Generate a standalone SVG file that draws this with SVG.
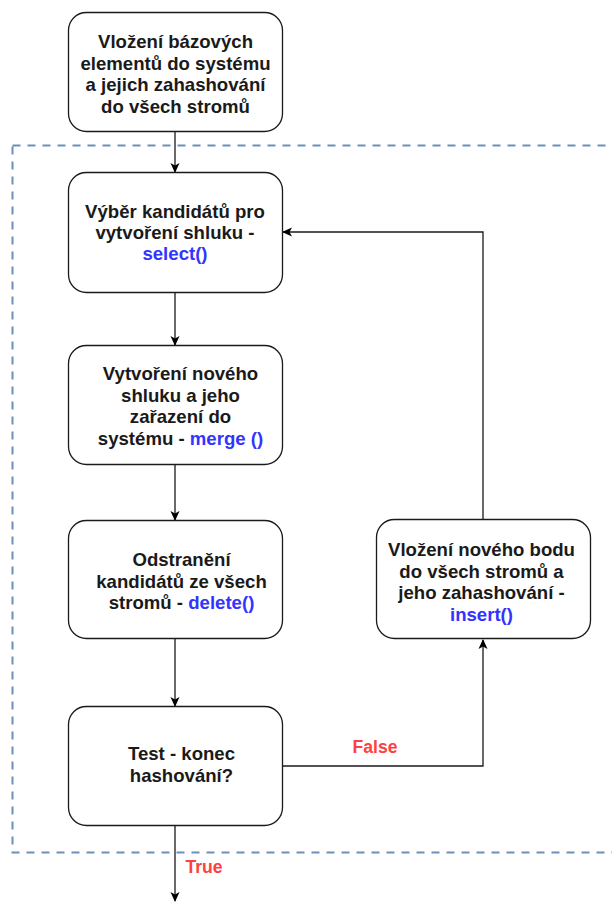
<svg xmlns="http://www.w3.org/2000/svg" width="612" height="902" viewBox="0 0 612 902">
  <style>
    .box { fill: #ffffff; stroke: #1a1a1a; stroke-width: 1.3; }
    .lbl { font-family: "Liberation Sans", Arial, sans-serif; font-size: 18.6px; font-weight: bold; fill: #1a1a1a; text-anchor: middle; }
    .fn { fill: #3333ff; }
    .edge { fill: none; stroke: #1a1a1a; stroke-width: 1.3; }
    .cond { font-family: "Liberation Sans", Arial, sans-serif; font-size: 17.6px; font-weight: bold; fill: #ff4040; text-anchor: middle; }
  </style>
  <defs>
    <marker id="arrow" viewBox="0 0 10 10" refX="9" refY="5" markerWidth="10" markerHeight="10" markerUnits="userSpaceOnUse" orient="auto">
      <path d="M0,0.5 L10,5 L0,9.5 L2.5,5 Z" fill="#000000"/>
    </marker>
  </defs>
  <rect width="612" height="902" fill="#ffffff"/>

  <!-- loop region -->
  <rect x="12.5" y="145.5" width="640" height="707" fill="none" stroke="#6c8ebf" stroke-width="2" stroke-dasharray="8 7"/>

  <g id="connectors">
    <path class="edge" d="M175,132 L175,172" marker-end="url(#arrow)"/>
    <path class="edge" d="M175,293 L175,345" marker-end="url(#arrow)"/>
    <path class="edge" d="M175,465 L175,520" marker-end="url(#arrow)"/>
    <path class="edge" d="M175,638 L175,706" marker-end="url(#arrow)"/>
    <path class="edge" d="M175,826 L175,901" marker-end="url(#arrow)"/>
    <path class="edge" d="M282,766 L483,766 L483,640" marker-end="url(#arrow)"/>
    <path class="edge" d="M483,519 L483,232 L283,232" marker-end="url(#arrow)"/>
    <text class="cond" x="375" y="753">False</text>
    <text class="cond" x="204" y="873">True</text>
  </g>

  <g id="insert-base">
    <rect class="box" x="68.5" y="12.5" width="214" height="119" rx="18"/>
    <text class="lbl" x="175.5" y="48">Vložení bázových</text>
    <text class="lbl" x="175.5" y="69.5">elementů do systému</text>
    <text class="lbl" x="175.5" y="91">a jejich zahashování</text>
    <text class="lbl" x="175.5" y="112.5">do všech stromů</text>
  </g>

  <g id="select">
    <rect class="box" x="68.5" y="172.5" width="214" height="120" rx="18"/>
    <text class="lbl" x="175" y="218">Výběr kandidátů pro</text>
    <text class="lbl" x="175" y="239">vytvoření shluku -</text>
    <text class="lbl fn" x="175" y="260">select()</text>
  </g>

  <g id="merge">
    <rect class="box" x="68.5" y="345.5" width="214" height="119" rx="18"/>
    <text class="lbl" x="180.5" y="380">Vytvoření nového</text>
    <text class="lbl" x="180.5" y="401.5">shluku a jeho</text>
    <text class="lbl" x="180.5" y="423">zařazení do</text>
    <text class="lbl" x="180.5" y="444.5">systému - <tspan class="fn">merge ()</tspan></text>
  </g>

  <g id="delete">
    <rect class="box" x="68.5" y="520.5" width="214" height="118" rx="18"/>
    <text class="lbl" x="181.5" y="566">Odstranění</text>
    <text class="lbl" x="181.5" y="587.5">kandidátů ze všech</text>
    <text class="lbl" x="181.5" y="609">stromů - <tspan class="fn">delete()</tspan></text>
  </g>

  <g id="insert">
    <rect class="box" x="376.5" y="519.5" width="214" height="119" rx="18"/>
    <text class="lbl" x="481.5" y="556">Vložení nového bodu</text>
    <text class="lbl" x="481.5" y="577.5">do všech stromů a</text>
    <text class="lbl" x="481.5" y="599">jeho zahashování -</text>
    <text class="lbl fn" x="481.5" y="620.5">insert()</text>
  </g>

  <g id="test">
    <rect class="box" x="68.5" y="706.5" width="214" height="119" rx="18"/>
    <text class="lbl" x="181.5" y="760">Test - konec</text>
    <text class="lbl" x="181.5" y="781.5">hashování?</text>
  </g>
</svg>
